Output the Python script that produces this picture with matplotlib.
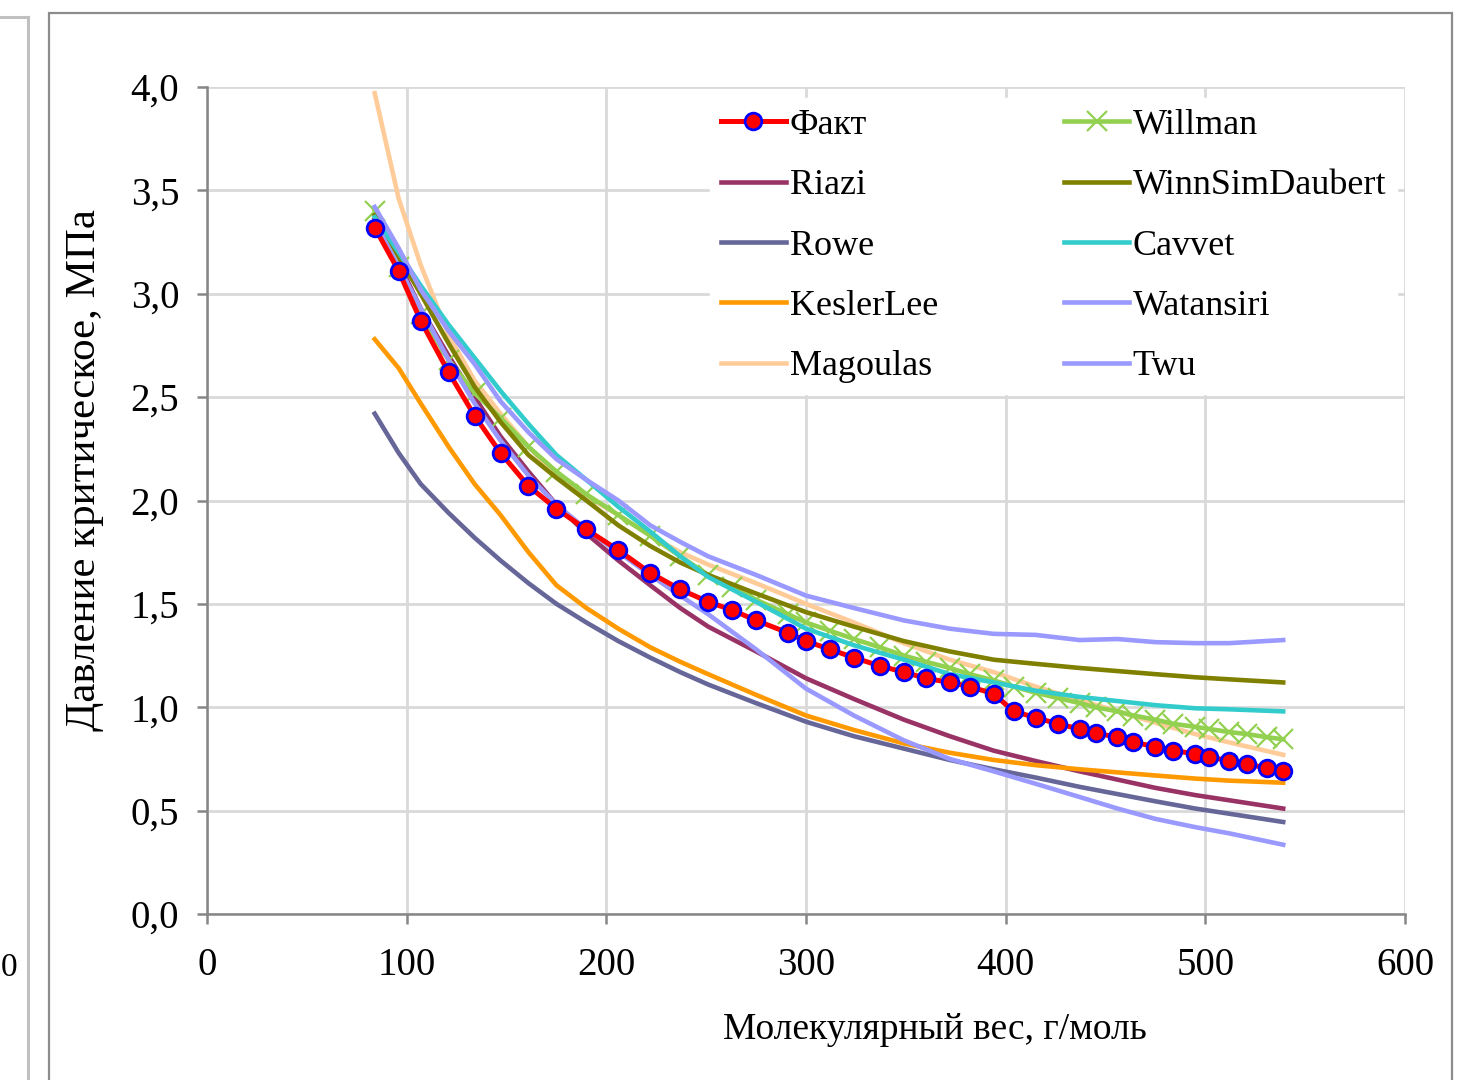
"""Critical pressure vs molecular weight: measured data vs correlations."""
import numpy as np
import matplotlib
matplotlib.use("Agg")
import matplotlib.pyplot as plt
from matplotlib.ticker import FuncFormatter, MultipleLocator
from matplotlib.patches import Rectangle
from matplotlib.lines import Line2D

plt.rcParams["font.family"] = ["Liberation Serif", "DejaVu Serif"]

# molecular weights of the measured points (SCN fractions)
mw = [84, 96, 107, 121, 134, 147, 161, 175, 190, 206, 222, 237, 251, 263, 275,
      291, 300, 312, 324, 337, 349, 360, 372, 382, 394, 404, 415, 426, 437, 445,
      456, 464, 475, 484, 495, 502, 512, 521, 531, 539]
fakt = [3.32, 3.11, 2.87, 2.62, 2.41, 2.23, 2.07, 1.96, 1.86, 1.76, 1.65, 1.57,
        1.51, 1.47, 1.42, 1.36, 1.32, 1.28, 1.24, 1.20, 1.17, 1.14, 1.12, 1.10,
        1.065, 0.98, 0.95, 0.92, 0.895, 0.875, 0.855, 0.83, 0.81, 0.79, 0.775,
        0.76, 0.74, 0.725, 0.705, 0.69]
willman = [3.40, 3.13, 2.90, 2.68, 2.52, 2.40, 2.26, 2.14, 2.03, 1.93, 1.83,
           1.73, 1.64, 1.58, 1.52, 1.45, 1.41, 1.37, 1.33, 1.29, 1.25, 1.22,
           1.19, 1.16, 1.13, 1.10, 1.07, 1.045, 1.02, 1.00, 0.98, 0.96, 0.94,
           0.92, 0.905, 0.895, 0.88, 0.87, 0.855, 0.845]

# correlations read at a subset of the same molecular weights
mw_c = [84, 96, 107, 121, 134, 147, 161, 175, 190, 206, 222, 237, 251, 275,
        300, 324, 349, 372, 394, 415, 437, 456, 475, 495, 512, 539]
riazi = [3.36, 3.15, 2.93, 2.70, 2.50, 2.31, 2.14, 1.98, 1.84, 1.71, 1.59, 1.48,
         1.39, 1.27, 1.14, 1.04, 0.94, 0.86, 0.79, 0.74, 0.69, 0.65, 0.61,
         0.575, 0.55, 0.51]
rowe = [2.42, 2.23, 2.08, 1.94, 1.82, 1.71, 1.60, 1.50, 1.41, 1.32, 1.24, 1.17,
        1.11, 1.02, 0.93, 0.86, 0.80, 0.745, 0.70, 0.66, 0.615, 0.58, 0.545,
        0.51, 0.485, 0.445]
kesler_lee = [2.78, 2.64, 2.47, 2.26, 2.08, 1.93, 1.75, 1.59, 1.48, 1.38, 1.29,
              1.22, 1.16, 1.06, 0.96, 0.89, 0.825, 0.78, 0.745, 0.72, 0.70,
              0.685, 0.67, 0.655, 0.645, 0.635]
magoulas = [3.97, 3.46, 3.14, 2.80, 2.58, 2.42, 2.26, 2.12, 2.02, 1.93, 1.83,
            1.75, 1.69, 1.60, 1.50, 1.41, 1.31, 1.23, 1.17, 1.10, 1.035, 0.98,
            0.925, 0.87, 0.83, 0.77]
winn = [3.38, 3.18, 3.00, 2.76, 2.55, 2.38, 2.22, 2.11, 2.00, 1.88, 1.78, 1.70,
        1.64, 1.55, 1.46, 1.39, 1.32, 1.27, 1.23, 1.21, 1.19, 1.175, 1.16,
        1.145, 1.135, 1.12]
cavvet = [3.37, 3.20, 3.04, 2.85, 2.69, 2.53, 2.37, 2.22, 2.10, 1.97, 1.85,
          1.73, 1.63, 1.51, 1.38, 1.30, 1.23, 1.16, 1.12, 1.08, 1.05, 1.03,
          1.01, 0.995, 0.99, 0.98]
watansiri = [3.35, 3.13, 2.93, 2.68, 2.47, 2.29, 2.12, 1.98, 1.86, 1.75, 1.64,
             1.54, 1.45, 1.28, 1.09, 0.96, 0.84, 0.75, 0.69, 0.63, 0.566, 0.51,
             0.46, 0.42, 0.39, 0.335]
twu = [3.42, 3.22, 3.02, 2.82, 2.66, 2.48, 2.33, 2.20, 2.10, 2.00, 1.88, 1.80,
       1.73, 1.64, 1.54, 1.48, 1.42, 1.38, 1.355, 1.35, 1.325, 1.33, 1.315,
       1.31, 1.31, 1.325]

W, H, DPI = 1470, 1080, 100
fig = plt.figure(figsize=(W / DPI, H / DPI), dpi=DPI)
ax = fig.add_axes([207 / W, 1 - 914 / H, 1198 / W, 827 / H])

lw = 3.3
ax.plot(mw_c, riazi, color="#993366", lw=lw, label="Riazi", zorder=3)
ax.plot(mw_c, rowe, color="#666699", lw=lw, label="Rowe", zorder=3)
ax.plot(mw_c, kesler_lee, color="#FF9900", lw=lw, label="KeslerLee", zorder=3)
ax.plot(mw_c, magoulas, color="#FFCC99", lw=lw, label="Magoulas", zorder=3)
ax.plot(mw, willman, color="#92D050", lw=lw, marker="x", ms=14, mew=1.6,
        label="Willman", zorder=3)
ax.plot(mw_c, winn, color="#808000", lw=lw, label="WinnSimDaubert", zorder=3)
ax.plot(mw_c, cavvet, color="#33CCCC", lw=lw, label="Cavvet", zorder=3)
ax.plot(mw_c, watansiri, color="#9999FF", lw=lw, label="Watansiri", zorder=3)
ax.plot(mw_c, twu, color="#9999FF", lw=lw, label="Twu", zorder=3)
ax.plot(mw, fakt, color="#FF0000", lw=3.6, marker="o", ms=12, mfc="#FF0000",
        mec="#0000FF", mew=2.0, label="Факт", zorder=4)

ax.set_xlim(0, 600)
ax.set_ylim(0, 4.0)
ax.xaxis.set_major_locator(MultipleLocator(100))
ax.yaxis.set_major_locator(MultipleLocator(0.5))
ax.yaxis.set_major_formatter(FuncFormatter(lambda v, p: f"{v:.1f}".replace(".", ",")))
ax.grid(True, color="#D9D9D9", lw=2.0, zorder=0)
for s in ("top", "right"):
    ax.spines[s].set_visible(False)
for s in ("left", "bottom"):
    ax.spines[s].set_color("#868686")
    ax.spines[s].set_linewidth(1.8)
ax.tick_params(axis="both", direction="out", length=7, width=1.8, color="#868686",
               labelsize=28)
ax.tick_params(axis="y", pad=13)
ax.tick_params(axis="x", pad=17)

ax.set_xlabel("Молекулярный вес, г/моль", fontsize=27, va="center")
ax.xaxis.set_label_coords((935 - 207) / 1198, (914 - 1030) / 827)
ax.set_ylabel("Давление критическое, МПа", fontsize=31, va="center")
ax.yaxis.set_label_coords((85 - 207) / 1198, (914 - 470) / 827)

order = ["Факт", "Riazi", "Rowe", "KeslerLee", "Magoulas",
         "Willman", "WinnSimDaubert", "Cavvet", "Watansiri", "Twu"]
hs, ls = ax.get_legend_handles_labels()
lut = dict(zip(ls, hs))
leg = ax.legend([lut[k] for k in order], order, ncol=2, loc="upper left",
                bbox_to_anchor=(0.42, 0.987), fontsize=26, frameon=True,
                fancybox=False, framealpha=1, edgecolor="white",
                handlelength=1.8, handletextpad=0.1, columnspacing=3.5,
                labelspacing=0.75, borderpad=0.3, borderaxespad=0)
leg.set_zorder(5)

# screenshot frames around the chart
fig.patches.append(Rectangle((49 / W, -0.05), (1452 - 49) / W, 1.05 - 13 / H,
                             transform=fig.transFigure, fill=False,
                             ec="#8C8C8C", lw=1.6))
fig.add_artist(Line2D([28 / W, 28 / W], [0, 1 - 17 / H], transform=fig.transFigure,
                      color="#C0C0C0", lw=2.2))
fig.add_artist(Line2D([0, 28 / W], [1 - 17 / H, 1 - 17 / H], transform=fig.transFigure,
                      color="#C0C0C0", lw=2.2))
fig.text(1 / W, 1 - 968 / H, "0", fontsize=24, va="center", ha="left")

fig.savefig("out.png", dpi=DPI)
